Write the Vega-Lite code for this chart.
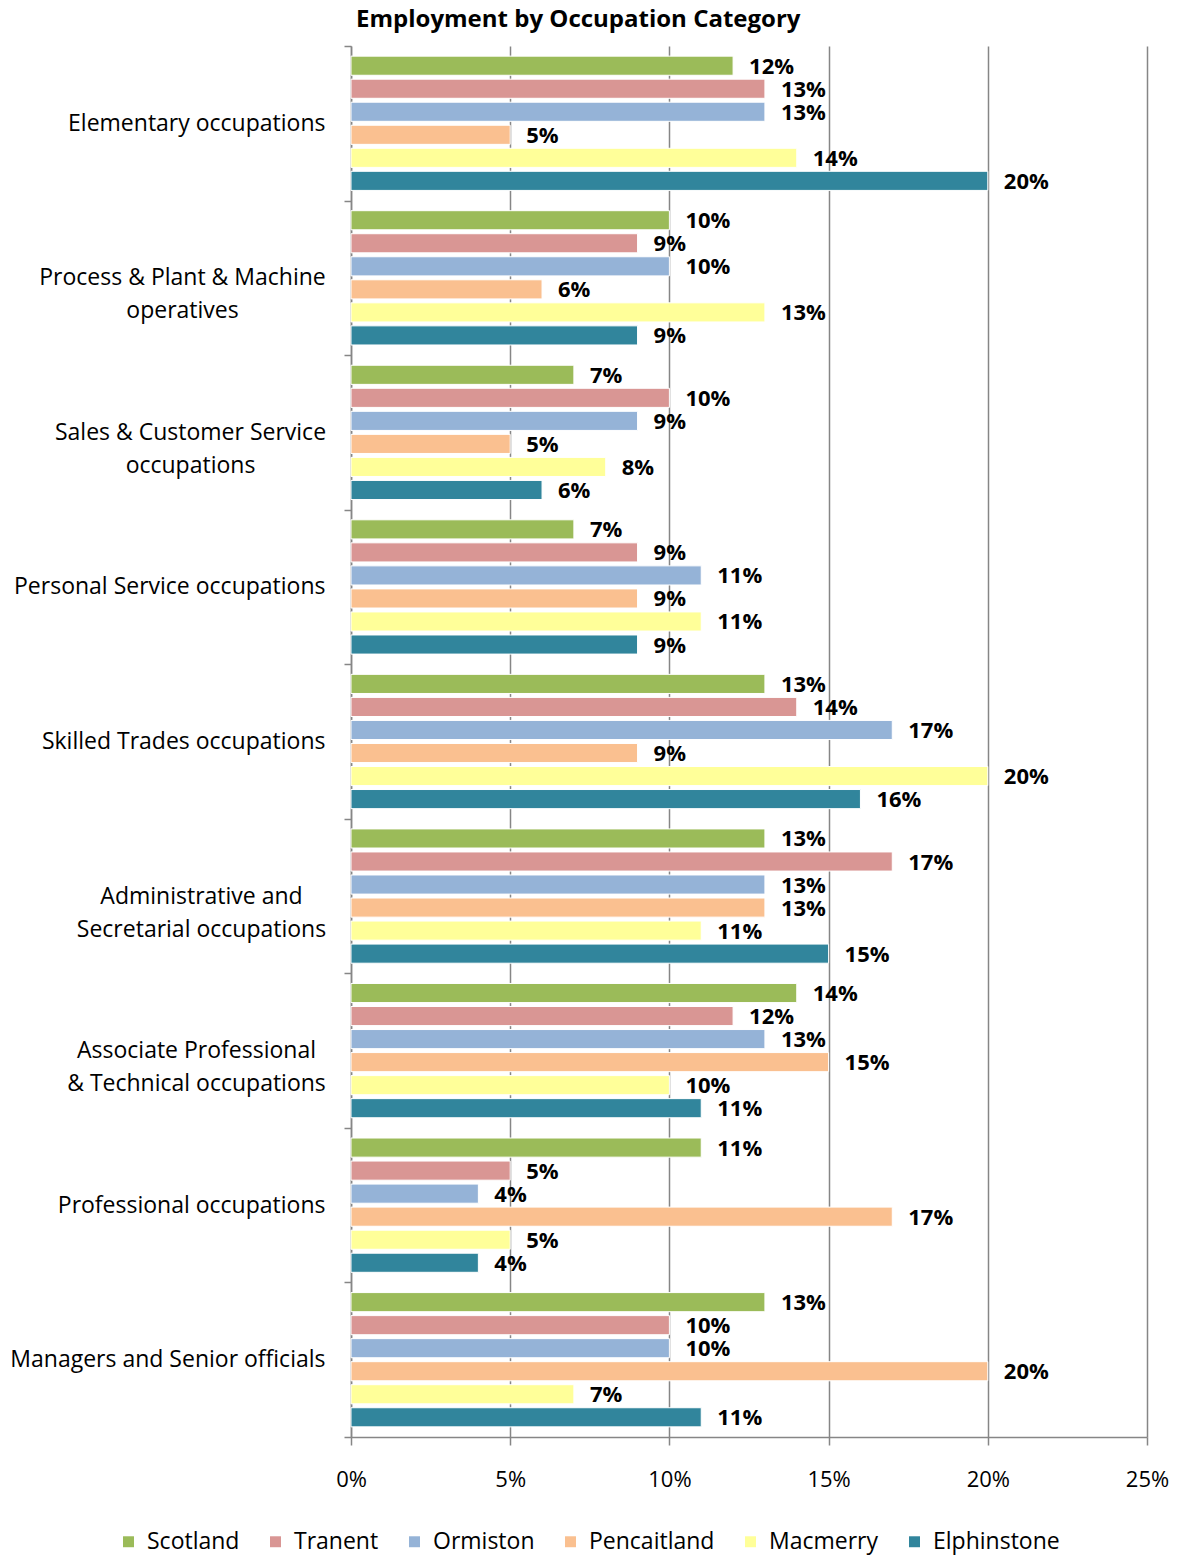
{
  "$schema": "https://vega.github.io/schema/vega-lite/v6.json",
  "autosize": {"type": "none"},
  "width": 796,
  "height": 1391,
  "padding": {"left": 351, "top": 46, "right": 40, "bottom": 118},
  "background": "white",
  "title": {
    "text": "Employment by Occupation Category",
    "anchor": "start",
    "frame": "group",
    "dx": 5,
    "offset": 3,
    "font": "Open Sans",
    "fontSize": 24,
    "fontWeight": "bold",
    "color": "black"
  },
  "config": {
    "font": "Open Sans",
    "view": {"stroke": null}
  },
  "data": {
    "values": [
      {"cat": "Elementary occupations", "area": "Scotland", "v": 0.12},
      {"cat": "Elementary occupations", "area": "Tranent", "v": 0.13},
      {"cat": "Elementary occupations", "area": "Ormiston", "v": 0.13},
      {"cat": "Elementary occupations", "area": "Pencaitland", "v": 0.05},
      {"cat": "Elementary occupations", "area": "Macmerry", "v": 0.14},
      {"cat": "Elementary occupations", "area": "Elphinstone", "v": 0.20},
      {"cat": "Process & Plant & Machine|operatives", "area": "Scotland", "v": 0.10},
      {"cat": "Process & Plant & Machine|operatives", "area": "Tranent", "v": 0.09},
      {"cat": "Process & Plant & Machine|operatives", "area": "Ormiston", "v": 0.10},
      {"cat": "Process & Plant & Machine|operatives", "area": "Pencaitland", "v": 0.06},
      {"cat": "Process & Plant & Machine|operatives", "area": "Macmerry", "v": 0.13},
      {"cat": "Process & Plant & Machine|operatives", "area": "Elphinstone", "v": 0.09},
      {"cat": "Sales & Customer Service|occupations", "area": "Scotland", "v": 0.07},
      {"cat": "Sales & Customer Service|occupations", "area": "Tranent", "v": 0.10},
      {"cat": "Sales & Customer Service|occupations", "area": "Ormiston", "v": 0.09},
      {"cat": "Sales & Customer Service|occupations", "area": "Pencaitland", "v": 0.05},
      {"cat": "Sales & Customer Service|occupations", "area": "Macmerry", "v": 0.08},
      {"cat": "Sales & Customer Service|occupations", "area": "Elphinstone", "v": 0.06},
      {"cat": "Personal Service occupations", "area": "Scotland", "v": 0.07},
      {"cat": "Personal Service occupations", "area": "Tranent", "v": 0.09},
      {"cat": "Personal Service occupations", "area": "Ormiston", "v": 0.11},
      {"cat": "Personal Service occupations", "area": "Pencaitland", "v": 0.09},
      {"cat": "Personal Service occupations", "area": "Macmerry", "v": 0.11},
      {"cat": "Personal Service occupations", "area": "Elphinstone", "v": 0.09},
      {"cat": "Skilled Trades occupations", "area": "Scotland", "v": 0.13},
      {"cat": "Skilled Trades occupations", "area": "Tranent", "v": 0.14},
      {"cat": "Skilled Trades occupations", "area": "Ormiston", "v": 0.17},
      {"cat": "Skilled Trades occupations", "area": "Pencaitland", "v": 0.09},
      {"cat": "Skilled Trades occupations", "area": "Macmerry", "v": 0.20},
      {"cat": "Skilled Trades occupations", "area": "Elphinstone", "v": 0.16},
      {"cat": "Administrative and|Secretarial occupations", "area": "Scotland", "v": 0.13},
      {"cat": "Administrative and|Secretarial occupations", "area": "Tranent", "v": 0.17},
      {"cat": "Administrative and|Secretarial occupations", "area": "Ormiston", "v": 0.13},
      {"cat": "Administrative and|Secretarial occupations", "area": "Pencaitland", "v": 0.13},
      {"cat": "Administrative and|Secretarial occupations", "area": "Macmerry", "v": 0.11},
      {"cat": "Administrative and|Secretarial occupations", "area": "Elphinstone", "v": 0.15},
      {"cat": "Associate Professional|& Technical occupations", "area": "Scotland", "v": 0.14},
      {"cat": "Associate Professional|& Technical occupations", "area": "Tranent", "v": 0.12},
      {"cat": "Associate Professional|& Technical occupations", "area": "Ormiston", "v": 0.13},
      {"cat": "Associate Professional|& Technical occupations", "area": "Pencaitland", "v": 0.15},
      {"cat": "Associate Professional|& Technical occupations", "area": "Macmerry", "v": 0.10},
      {"cat": "Associate Professional|& Technical occupations", "area": "Elphinstone", "v": 0.11},
      {"cat": "Professional occupations", "area": "Scotland", "v": 0.11},
      {"cat": "Professional occupations", "area": "Tranent", "v": 0.05},
      {"cat": "Professional occupations", "area": "Ormiston", "v": 0.04},
      {"cat": "Professional occupations", "area": "Pencaitland", "v": 0.17},
      {"cat": "Professional occupations", "area": "Macmerry", "v": 0.05},
      {"cat": "Professional occupations", "area": "Elphinstone", "v": 0.04},
      {"cat": "Managers and Senior officials", "area": "Scotland", "v": 0.13},
      {"cat": "Managers and Senior officials", "area": "Tranent", "v": 0.10},
      {"cat": "Managers and Senior officials", "area": "Ormiston", "v": 0.10},
      {"cat": "Managers and Senior officials", "area": "Pencaitland", "v": 0.20},
      {"cat": "Managers and Senior officials", "area": "Macmerry", "v": 0.07},
      {"cat": "Managers and Senior officials", "area": "Elphinstone", "v": 0.11}
    ]
  },
  "encoding": {
    "y": {
      "field": "cat",
      "type": "nominal",
      "sort": null,
      "scale": {"paddingInner": 0, "paddingOuter": 0},
      "axis": {
        "title": null,
        "labelExpr": "datum.value ? split(datum.value, '|') : ''",
        "labelFont": "Open Sans",
        "labelFontSize": 23,
        "labelColor": "black",
        "labelLineHeight": 33,
        "labelLimit": 400,
        "labelAlign": {"condition": {"test": "datum.value && indexof(datum.value, '|') >= 0", "value": "center"}, "value": "right"},
        "labelPadding": {
          "condition": [
            {"test": "datum.value == 'Process & Plant & Machine|operatives'", "value": 162},
            {"test": "datum.value == 'Sales & Customer Service|occupations'", "value": 154},
            {"test": "datum.value == 'Administrative and|Secretarial occupations'", "value": 143},
            {"test": "datum.value == 'Associate Professional|& Technical occupations'", "value": 148}
          ],
          "value": 19
        },
        "tickBand": "extent",
        "tickSize": 7,
        "tickColor": "#868686",
        "tickWidth": 1.5,
        "domainColor": "#868686",
        "domainWidth": 1.5,
        "grid": false
      }
    },
    "yOffset": {
      "field": "area",
      "type": "nominal",
      "sort": ["Scotland", "Tranent", "Ormiston", "Pencaitland", "Macmerry", "Elphinstone"],
      "scale": {"paddingInner": 0.17, "paddingOuter": 0.44}
    },
    "x": {
      "field": "v",
      "type": "quantitative",
      "scale": {"domain": [0, 0.25], "nice": false},
      "axis": {
        "title": null,
        "format": ".0%",
        "values": [0, 0.05, 0.1, 0.15, 0.2, 0.25],
        "labelFont": "Open Sans",
        "labelFontSize": 22,
        "labelColor": "black",
        "labelPadding": 24,
        "labelFlush": false,
        "tickSize": 8,
        "tickColor": "#868686",
        "tickWidth": 1.5,
        "domainColor": "#868686",
        "domainWidth": 1.5,
        "grid": true,
        "gridColor": "#868686",
        "gridWidth": 1.5
      }
    }
  },
  "layer": [
    {
      "mark": {"type": "bar", "stroke": "white", "strokeWidth": 1},
      "encoding": {
        "color": {
          "field": "area",
          "type": "nominal",
          "scale": {
            "domain": ["Scotland", "Tranent", "Ormiston", "Pencaitland", "Macmerry", "Elphinstone"],
            "range": ["#9BBB59", "#D99694", "#95B3D7", "#FAC090", "#FFFF99", "#31859C"]
          },
          "legend": {
            "title": null,
            "orient": "none",
            "direction": "horizontal",
            "legendX": -234,
            "legendY": 1484,
            "symbolType": "square",
            "symbolSize": 120,
            "symbolStrokeWidth": 0,
            "labelFont": "Open Sans",
            "labelFontSize": 23,
            "labelColor": "black",
            "columnPadding": 24,
            "labelOffset": 7
          }
        }
      }
    },
    {
      "mark": {"type": "text", "align": "left", "baseline": "middle", "dx": 16, "dy": 1, "font": "Open Sans", "fontSize": 22, "fontWeight": "bold", "color": "black"},
      "encoding": {
        "text": {"field": "v", "type": "quantitative", "format": ".0%"}
      }
    }
  ]
}
